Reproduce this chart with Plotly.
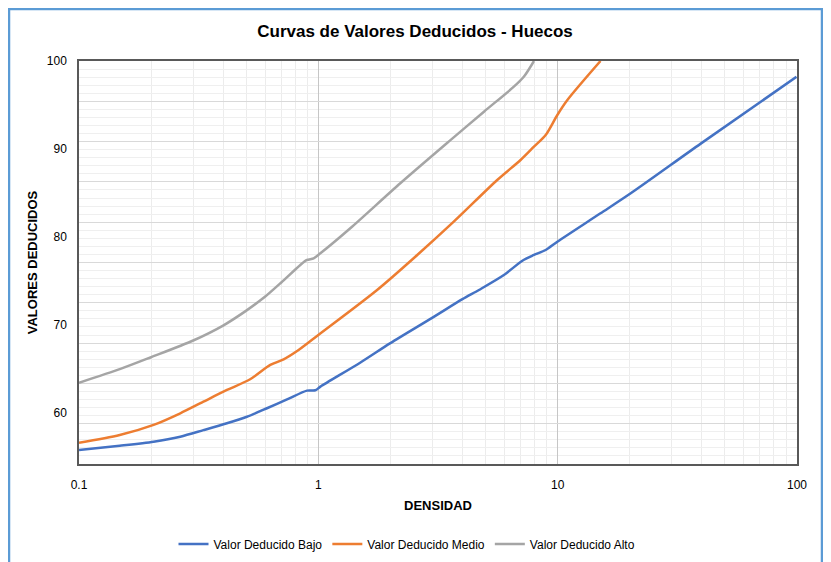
import plotly.graph_objects as go

# densidad (log) vs valor deducido
bajo_x = [0.1, 0.148, 0.205, 0.265, 0.331, 0.415, 0.503, 0.61, 0.74, 0.897, 0.971, 1.02,
          1.5, 2.0, 3.0, 4.0, 4.69, 5.96, 7.12, 7.96, 8.91, 9.97, 15.1, 20.2, 39.6, 99.5]
bajo_y = [55.75, 56.23, 56.69, 57.26, 58.0, 58.78, 59.53, 60.49, 61.5, 62.5, 62.54, 62.95,
          65.7, 67.9, 70.8, 72.9, 73.95, 75.65, 77.28, 77.93, 78.5, 79.44, 82.67, 84.95, 90.6, 98.2]

medio_x = [0.1, 0.148, 0.205, 0.265, 0.331, 0.415, 0.519, 0.63, 0.716, 0.827, 1.0,
           1.76, 2.59, 3.68, 5.59, 7.0, 7.96, 8.91, 9.97, 10.98, 15.1]
medio_y = [56.57, 57.45, 58.6, 59.92, 61.24, 62.57, 63.79, 65.42, 66.06, 67.12, 68.83,
           73.95, 77.93, 81.72, 86.46, 88.74, 90.25, 91.58, 93.86, 95.56, 100.0]

alto_x = [0.1, 0.15, 0.2, 0.3, 0.4, 0.5, 0.6, 0.7, 0.841, 0.897, 0.956, 1.02,
          1.36, 2.2, 3.565, 4.92, 6.56, 7.22, 7.96]
alto_y = [63.4, 65.0, 66.3, 68.2, 69.9, 71.6, 73.2, 74.8, 76.8, 77.36, 77.55, 78.12,
          80.97, 86.09, 91.0, 94.23, 97.08, 98.21, 100.0]

series = [
    ("Valor Deducido Bajo", bajo_x, bajo_y, "#4472c4"),
    ("Valor Deducido Medio", medio_x, medio_y, "#ed7d31"),
    ("Valor Deducido Alto", alto_x, alto_y, "#a5a5a5"),
]

x_ticks = [0.1, 1, 10, 100]
x_ticktext = ["0.1", "1", "10", "100"]
y_ticks = [60, 70, 80, 90, 100]

Y_MIN, Y_MAX = 54.15, 100

# the background grid of the original does not sit on the labels
grid_step = (Y_MAX - Y_MIN) / 10
grid_major = [Y_MAX - k * grid_step for k in range(11)]
grid_minor = [Y_MAX - k * grid_step / 5 for k in range(51)]
x_minor = [m * d for d in (0.1, 1, 10) for m in range(2, 10)]

fig = go.Figure()
for name, xs, ys, color in series:
    fig.add_trace(go.Scatter(x=xs, y=ys, name=name, mode="lines",
                             line=dict(color=color, width=2.5, shape="spline", smoothing=0.8)))
fig.add_trace(go.Scatter(x=[], y=[], yaxis="y2", showlegend=False, hoverinfo="skip"))

# page body keeps an 8px margin, so the figure is sized to the remaining window
OFF = 8
W, H = 831 - OFF, 562 - OFF
L, R, T, B = 79 - OFF, 34, 61 - OFF, 98
pw, ph = W - L - R, H - T - B

narrow = "Liberation Sans Narrow, Arial Narrow, Liberation Sans"

fig.update_layout(
    width=W, height=H,
    margin=dict(l=L, r=R, t=T, b=B, autoexpand=False),
    paper_bgcolor="white", plot_bgcolor="white",
    font=dict(family="Liberation Sans, Arial, sans-serif", size=12, color="#000000"),
    title=dict(text="<b>Curvas de Valores Deducidos - Huecos</b>",
               font=dict(family=narrow, size=17, color="#000000"),
               x=(415 - OFF) / W, xanchor="center", y=1 - (31 - OFF) / H, yanchor="middle"),
    xaxis=dict(type="log", range=[-1, 2], tickmode="array", tickvals=x_ticks, ticktext=x_ticktext,
               showgrid=True, gridcolor="#c6c6c6", gridwidth=1,
               minor=dict(tickmode="array", tickvals=x_minor, showgrid=True, gridcolor="#ececec", ticks=""),
               showline=True, mirror=True, linecolor="#595959", linewidth=1.5,
               ticks="outside", ticklen=9, tickcolor="rgba(0,0,0,0)",
               tickfont=dict(size=12),
               title=dict(text="<b>DENSIDAD</b>", standoff=10,
                          font=dict(family=narrow, size=13)),
               zeroline=False),
    yaxis=dict(range=[Y_MIN, Y_MAX], tickmode="array", tickvals=y_ticks,
               showgrid=False,
               minor=dict(tickmode="array", tickvals=grid_minor, showgrid=True, gridcolor="#efefef", ticks=""),
               showline=True, mirror=True, linecolor="#595959", linewidth=1.5,
               ticks="outside", ticklen=8, tickcolor="rgba(0,0,0,0)",
               tickfont=dict(size=12),
               title=dict(text="<b>VALORES DEDUCIDOS</b>", standoff=6,
                          font=dict(family=narrow, size=13)),
               zeroline=False),
    yaxis2=dict(range=[Y_MIN, Y_MAX], overlaying="y", side="left", tickmode="array", tickvals=grid_major,
                showgrid=True, gridcolor="#d9d9d9", showticklabels=False, ticks="",
                showline=False, zeroline=False),
    legend=dict(orientation="h", xref="container", yref="container",
                x=(407 - OFF) / W, xanchor="center", y=1 - (544 - OFF) / H, yanchor="middle",
                font=dict(size=12), itemwidth=30, bgcolor="rgba(0,0,0,0)"),
    shapes=[dict(type="rect", xref="paper", yref="paper",
                 x0=(1 - L) / pw, x1=(822 - OFF - L) / pw,
                 y0=-(H + 10 - (T + ph)) / ph, y1=(T + ph - 1) / ph,
                 line=dict(color="#5b9bd5", width=2.5), fillcolor="rgba(0,0,0,0)", layer="below")],
)

fig.write_html("out.html")
